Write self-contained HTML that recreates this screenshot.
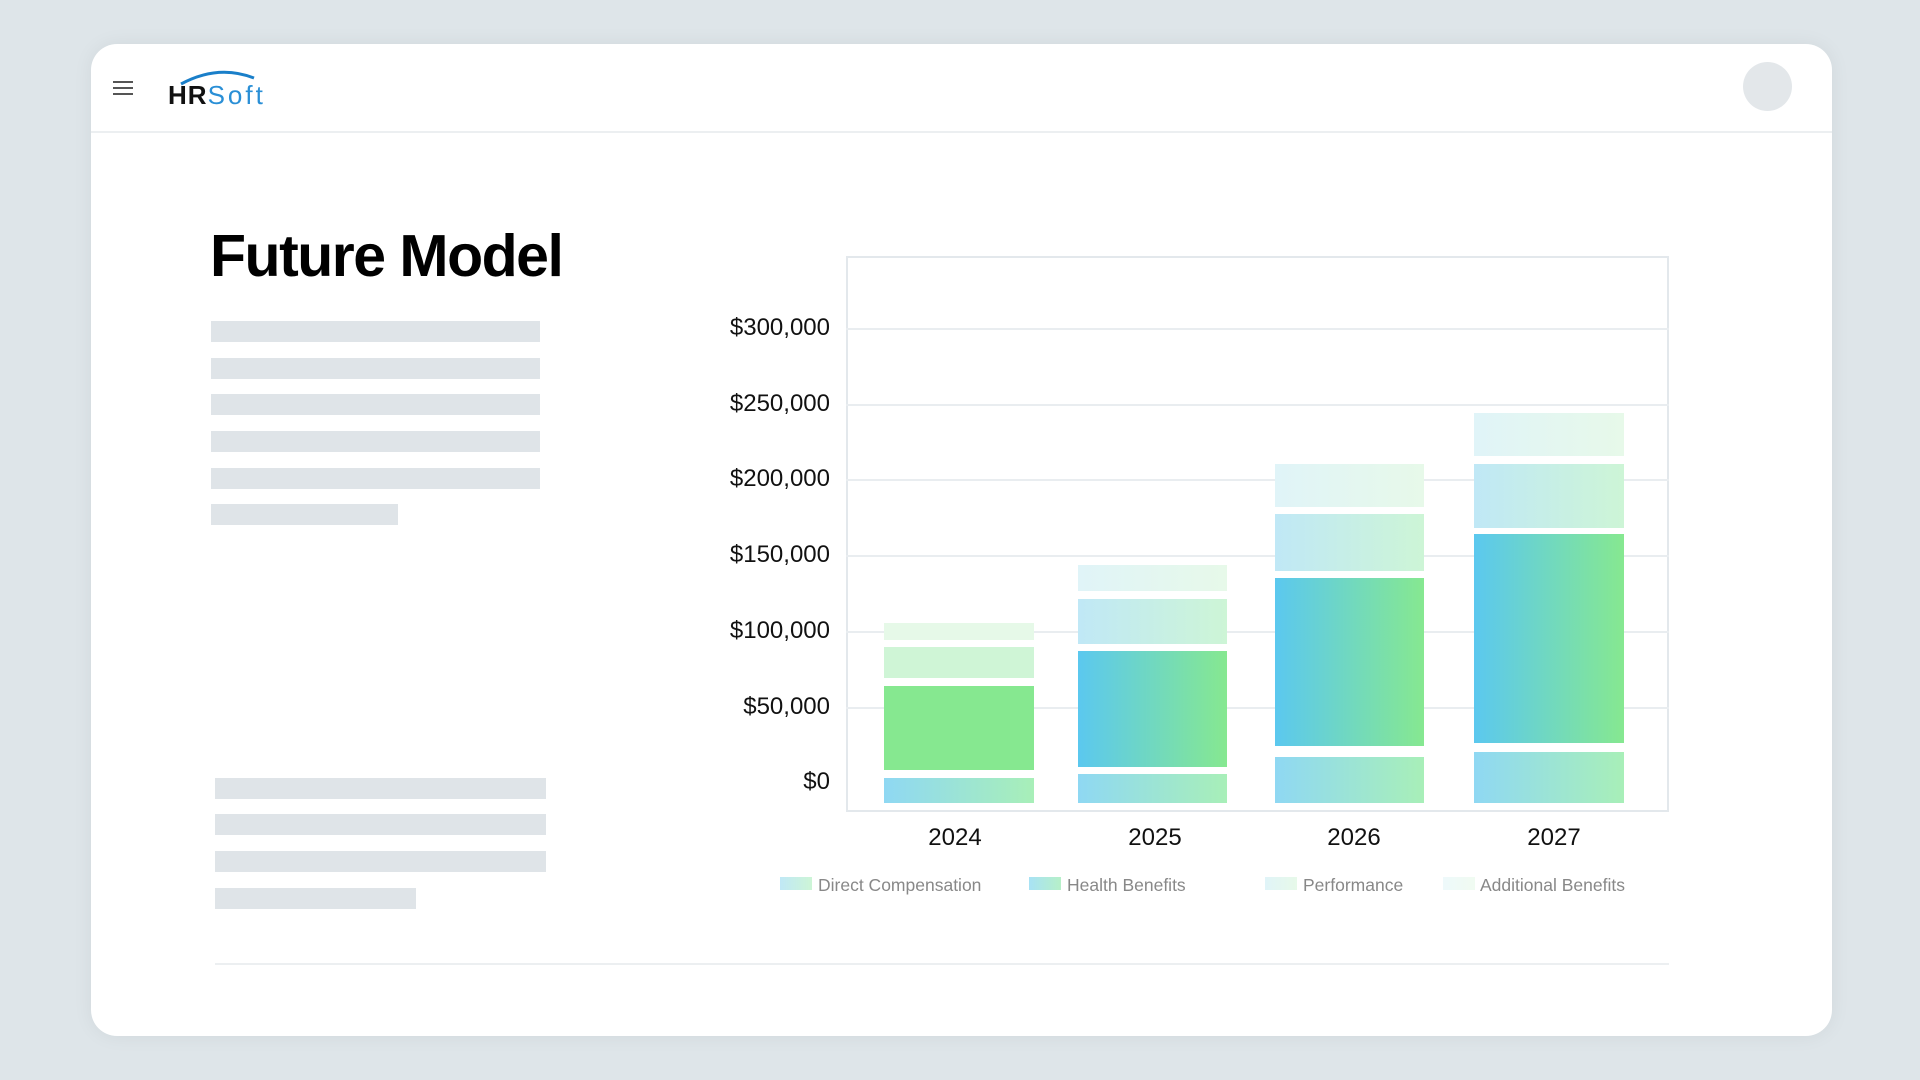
<!DOCTYPE html>
<html><head><meta charset="utf-8"><style>
*{margin:0;padding:0;box-sizing:border-box}
body{width:1920px;height:1080px;background:#dee5e9;font-family:"Liberation Sans",sans-serif;position:relative;overflow:hidden}
.card{position:absolute;left:91px;top:44px;width:1741px;height:992px;background:#fff;border-radius:26px;box-shadow:0 0 20px rgba(0,0,0,0.06)}
.a{position:absolute}
.sk{position:absolute;height:21px;background:#dfe4e8}
.grid{position:absolute;left:846px;width:823px;height:2px;background:#e9edf0}
.yl{position:absolute;right:1090px;font-size:24px;color:#111;transform:translateY(-50%)}
.xl{position:absolute;width:200px;text-align:center;font-size:24px;color:#111;top:824px}
.seg{position:absolute}
.lg{position:absolute;top:875px;font-size:17.5px;color:#888}
.sw{position:absolute;top:877px;width:32px;height:13px}
</style></head><body>
<div class="card"></div>
<div class="a" style="left:113px;top:81px;width:20px;height:2px;background:#555;box-shadow:0 6px 0 #555,0 12px 0 #555"></div>
<svg class="a" style="left:178px;top:68px" width="80" height="20"><path d="M3 16 Q40 -4 76 10" stroke="#1a7fc9" stroke-width="3" fill="none"/></svg>
<div class="a" style="left:168px;top:80px;font-size:26px;letter-spacing:1px"><b style="color:#111">HR</b><span style="color:#2a8fd6;letter-spacing:3px">Soft</span></div>
<div class="a" style="left:1743px;top:62px;width:49px;height:49px;border-radius:50%;background:#e3e7ea"></div>
<div class="a" style="left:91px;top:131px;width:1741px;height:2px;background:#eceff1"></div>
<div class="a" style="left:210px;top:222px;font-size:59px;font-weight:bold;color:#000;letter-spacing:-1.5px">Future Model</div>
<div class="sk" style="left:211px;top:321px;width:329px"></div>
<div class="sk" style="left:211px;top:358px;width:329px"></div>
<div class="sk" style="left:211px;top:394px;width:329px"></div>
<div class="sk" style="left:211px;top:431px;width:329px"></div>
<div class="sk" style="left:211px;top:468px;width:329px"></div>
<div class="sk" style="left:211px;top:504px;width:187px"></div>
<div class="sk" style="left:215px;top:778px;width:331px"></div>
<div class="sk" style="left:215px;top:814px;width:331px"></div>
<div class="sk" style="left:215px;top:851px;width:331px"></div>
<div class="sk" style="left:215px;top:888px;width:201px"></div>
<div class="a" style="left:215px;top:963px;width:1454px;height:2px;background:#eceff1"></div>
<div class="a" style="left:846px;top:256px;width:823px;height:556px;border:2px solid #e3e8ec"></div>
<div class="grid" style="top:328px"></div><div class="grid" style="top:404px"></div><div class="grid" style="top:479px"></div><div class="grid" style="top:555px"></div><div class="grid" style="top:631px"></div><div class="grid" style="top:707px"></div>
<div class="yl" style="top:328px">$300,000</div><div class="yl" style="top:404px">$250,000</div><div class="yl" style="top:479px">$200,000</div><div class="yl" style="top:555px">$150,000</div><div class="yl" style="top:631px">$100,000</div><div class="yl" style="top:707px">$50,000</div><div class="yl" style="top:782px">$0</div>
<!-- 2024 -->
<div class="seg" style="left:884px;width:150px;top:778px;height:25px;background:linear-gradient(90deg,#8fd8f3,#a8efb8)"></div>
<div class="seg" style="left:884px;width:150px;top:686px;height:84px;background:#86e890"></div>
<div class="seg" style="left:884px;width:150px;top:647px;height:31px;background:#cff5d6"></div>
<div class="seg" style="left:884px;width:150px;top:623px;height:17px;background:#e6f9e8"></div>
<!-- 2025 -->
<div class="seg" style="left:1078px;width:149px;top:774px;height:29px;background:linear-gradient(90deg,#8fd8f3,#a8efb8)"></div>
<div class="seg" style="left:1078px;width:149px;top:651px;height:116px;background:linear-gradient(90deg,#5bc8ef,#86e890)"></div>
<div class="seg" style="left:1078px;width:149px;top:599px;height:45px;background:linear-gradient(90deg,#c0e8f6,#cdf5d6)"></div>
<div class="seg" style="left:1078px;width:149px;top:565px;height:26px;background:linear-gradient(90deg,#e0f4f8,#e7f9e9)"></div>
<!-- 2026 -->
<div class="seg" style="left:1275px;width:149px;top:757px;height:46px;background:linear-gradient(90deg,#8fd8f3,#a8efb8)"></div>
<div class="seg" style="left:1275px;width:149px;top:578px;height:168px;background:linear-gradient(90deg,#5bc8ef,#86e890)"></div>
<div class="seg" style="left:1275px;width:149px;top:514px;height:57px;background:linear-gradient(90deg,#c0e8f6,#cdf5d6)"></div>
<div class="seg" style="left:1275px;width:149px;top:464px;height:43px;background:linear-gradient(90deg,#e0f4f8,#e7f9e9)"></div>
<!-- 2027 -->
<div class="seg" style="left:1474px;width:150px;top:752px;height:51px;background:linear-gradient(90deg,#8fd8f3,#a8efb8)"></div>
<div class="seg" style="left:1474px;width:150px;top:534px;height:209px;background:linear-gradient(90deg,#5bc8ef,#86e890)"></div>
<div class="seg" style="left:1474px;width:150px;top:464px;height:64px;background:linear-gradient(90deg,#c0e8f6,#cdf5d6)"></div>
<div class="seg" style="left:1474px;width:150px;top:413px;height:43px;background:linear-gradient(90deg,#e0f4f8,#e7f9e9)"></div>
<div class="xl" style="left:855px">2024</div><div class="xl" style="left:1055px">2025</div><div class="xl" style="left:1254px">2026</div><div class="xl" style="left:1454px">2027</div>
<div class="sw" style="left:780px;background:linear-gradient(90deg,#c0e8f6,#cdf5d6)"></div><div class="lg" style="left:818px">Direct Compensation</div>
<div class="sw" style="left:1029px;background:linear-gradient(90deg,#a8e2f5,#b6f0c8)"></div><div class="lg" style="left:1067px">Health Benefits</div>
<div class="sw" style="left:1265px;background:linear-gradient(90deg,#e0f4f8,#e7f9e9)"></div><div class="lg" style="left:1303px">Performance</div>
<div class="sw" style="left:1443px;background:linear-gradient(90deg,#eef9fb,#f0fbf1)"></div><div class="lg" style="left:1480px">Additional Benefits</div>
</body></html>
